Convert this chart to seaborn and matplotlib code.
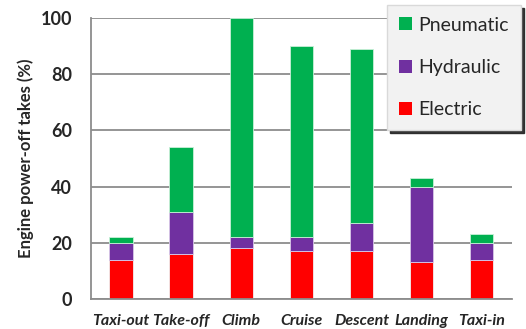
import matplotlib
matplotlib.use("Agg")
import matplotlib.pyplot as plt
import seaborn as sns
import pandas as pd
import numpy as np
from matplotlib.patches import Patch

phases = ["Taxi-out", "Take-off", "Climb", "Cruise", "Descent", "Landing", "Taxi-in"]
electric = [14, 16, 18, 17, 17, 13, 14]
hydraulic = [6, 15, 4, 5, 10, 27, 6]
pneumatic = [2, 23, 78, 68, 62, 3, 3]
y_ticks = [0, 20, 40, 60, 80, 100]

sns.set_theme(style="white")
plt.rcParams['font.family'] = ['Lato', 'DejaVu Sans']

df = pd.DataFrame({"phase": phases, "Electric": electric,
                   "Hydraulic": hydraulic, "Pneumatic": pneumatic})
bottom_h = np.array(electric)
bottom_p = bottom_h + np.array(hydraulic)

fig = plt.figure(figsize=(5.26, 3.29), dpi=100)
ax = fig.add_axes([0.173, 0.091, 0.8, 0.855])

grid_c = "#8c8c8c"
for y in y_ticks:
    ax.axhline(y, color=grid_c, lw=1.3, zorder=0)

colors = {"Electric": "#FF0000", "Hydraulic": "#7030A0", "Pneumatic": "#00B050"}
sns.barplot(data=df, x="phase", y="Electric", color=colors["Electric"], width=0.39,
            saturation=1, ax=ax, edgecolor="#f0f0f0", linewidth=0.6, zorder=2)
sns.barplot(data=df, x="phase", y="Hydraulic", color=colors["Hydraulic"], width=0.39,
            saturation=1, ax=ax, bottom=bottom_h, edgecolor="#d8c8e8", linewidth=0.6, zorder=2)
sns.barplot(data=df, x="phase", y="Pneumatic", color=colors["Pneumatic"], width=0.39,
            saturation=1, ax=ax, bottom=bottom_p, edgecolor="#c8f0d8", linewidth=0.6, zorder=2)

ax.set_xlim(-0.5, 6.5)
ax.set_ylim(0, 100)
ax.set_yticks(y_ticks)
ax.set_yticklabels([str(v) for v in y_ticks], fontsize=13, fontweight="bold")
ax.set_xticks(range(len(phases)))
ax.set_xticklabels(phases, fontsize=11.5, fontweight="bold", style="italic")
ax.set_xticks(np.arange(-0.5, 7, 1), minor=True)
ax.tick_params(axis="x", which="major", length=0, pad=11)
ax.tick_params(axis="x", which="minor", length=4, width=1.3, color=grid_c, direction="out")
ax.tick_params(axis="y", which="major", length=6, width=1.3, color=grid_c, direction="out", pad=7.5)
ax.set_xlabel("")
ax.set_ylabel("Engine power-off takes (%)", fontsize=12, fontweight="bold", labelpad=5)

for s in ["top", "right"]:
    ax.spines[s].set_visible(False)
for s in ["left", "bottom"]:
    ax.spines[s].set_color(grid_c)
    ax.spines[s].set_linewidth(1.3)

handles = [Patch(facecolor=colors[k], edgecolor="none", label=k)
           for k in ["Pneumatic", "Hydraulic", "Electric"]]
leg = fig.legend(handles=handles, loc="upper right", bbox_to_anchor=(0.99, 0.985),
                 fontsize=14, frameon=True, fancybox=False, shadow={"color": "#222222", "alpha": 0.9},
                 handlelength=0.65, handleheight=0.65, handletextpad=0.35,
                 labelspacing=1.3, borderpad=0.6, borderaxespad=0)
leg.get_frame().set_facecolor("#f2f2f2")
leg.get_frame().set_edgecolor("#d9d9d9")
leg.get_frame().set_alpha(1)

fig.savefig("out.png", dpi=100)
